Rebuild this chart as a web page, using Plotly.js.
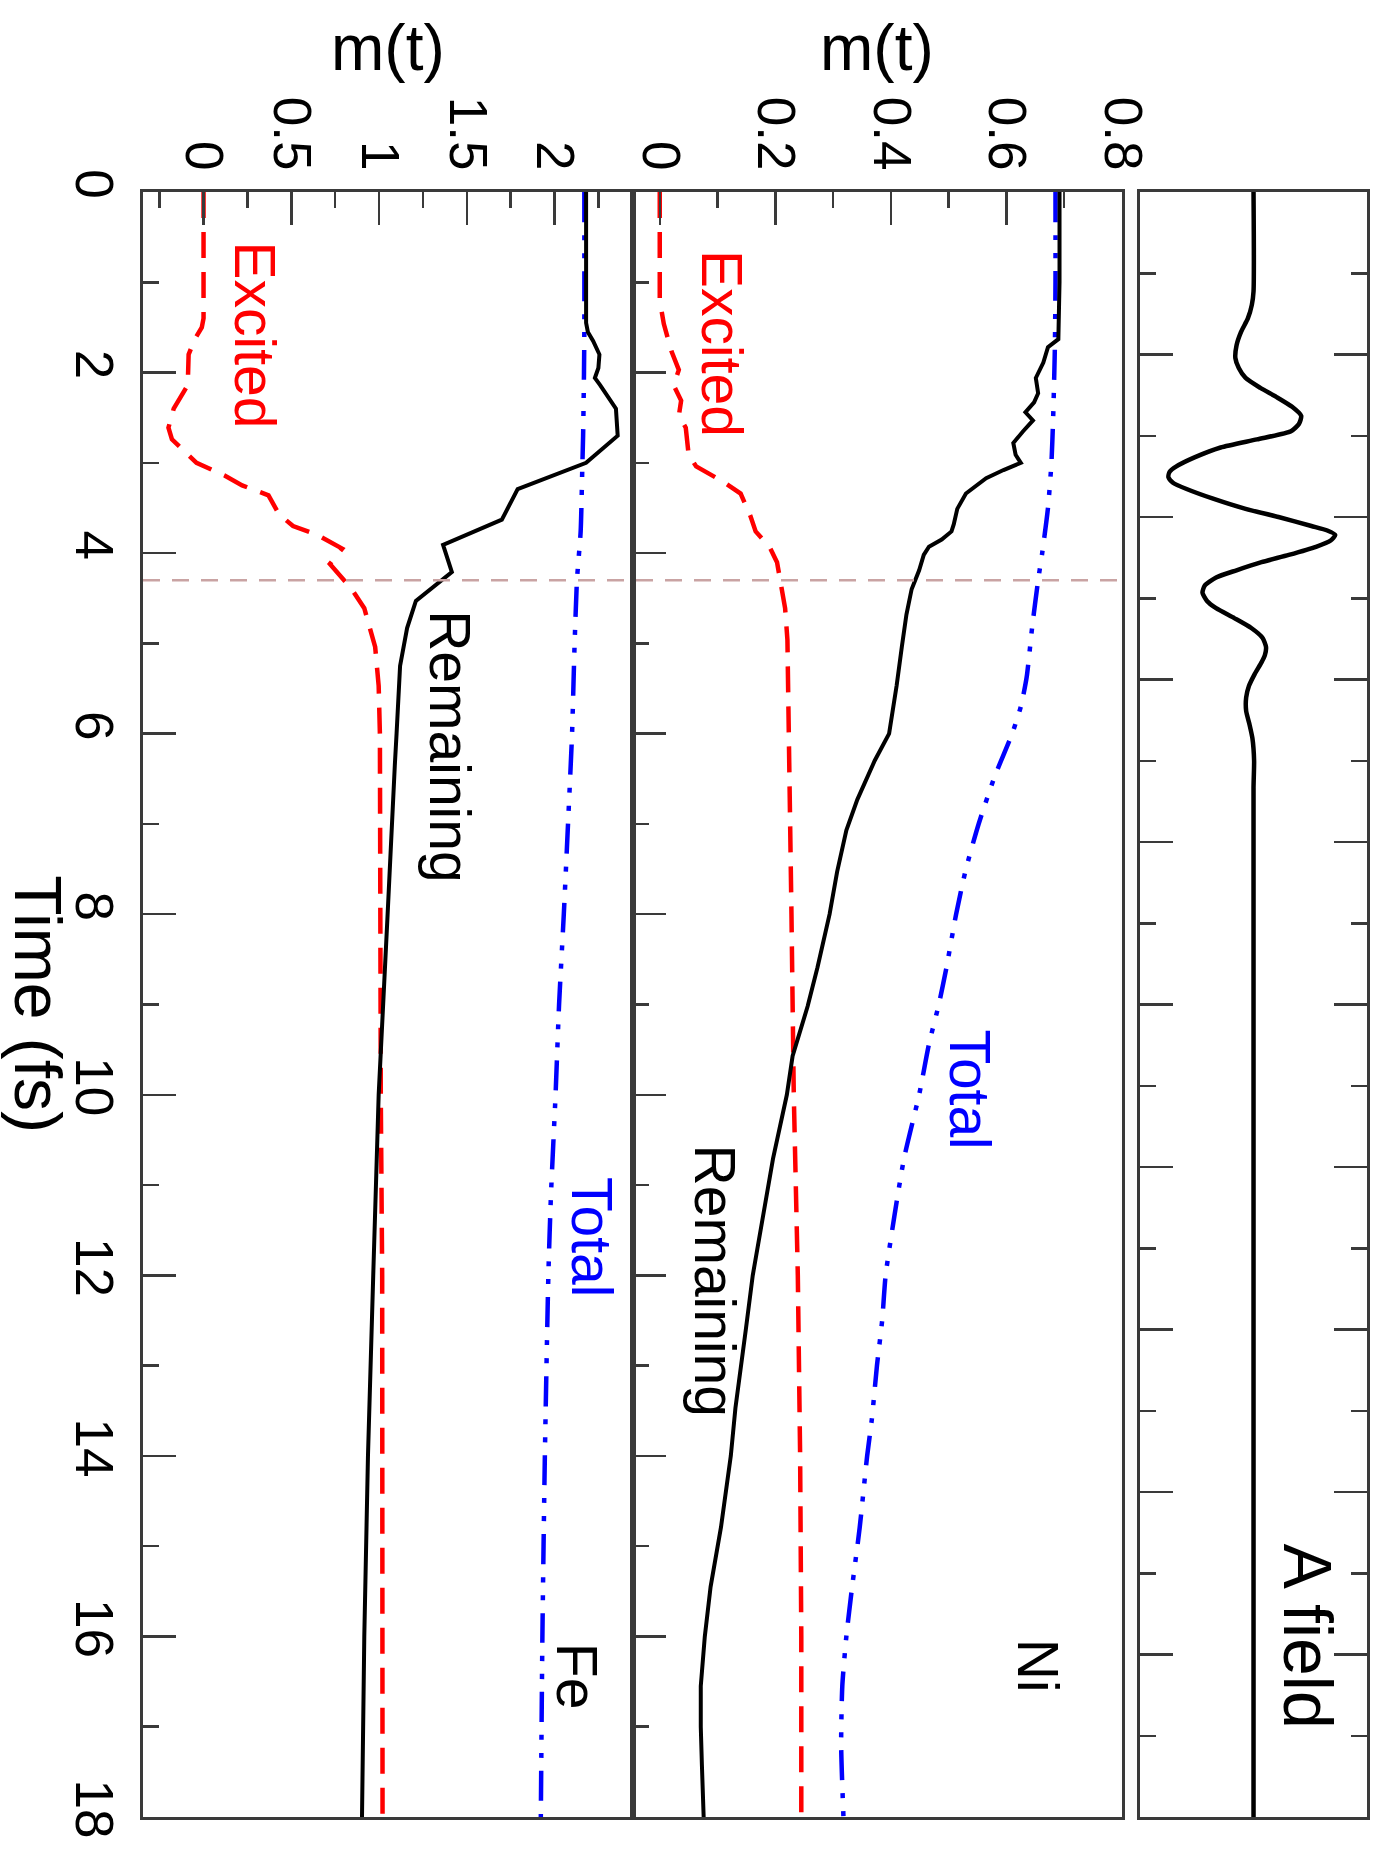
<!DOCTYPE html>
<html><head><meta charset="utf-8">
<script src="https://cdn.plot.ly/plotly-3.0.1.min.js"></script>
<style>html,body{margin:0;padding:0;background:#fff}#chart{width:1381px;height:1871px}</style>
</head><body><div id="chart"></div>
<script>
// ---- A field (arbitrary units) ----
const tA = [0,1.1,1.25,1.4,1.55,1.7,1.84,1.95,2.06,2.17,2.27,2.38,2.48,2.57,2.65,2.74,2.83,2.94,3.04,3.10,3.16,3.22,3.29,3.40,3.51,3.60,3.70,3.75,3.80,3.86,3.93,4.02,4.10,4.19,4.27,4.36,4.44,4.53,4.61,4.72,4.83,4.94,5.04,5.13,5.21,5.34,5.47,5.60,5.75,5.90,6.05,6.3,6.6,18];
const aField = [0,0,-0.015,-0.05,-0.11,-0.15,-0.16,-0.13,-0.07,0.06,0.2,0.34,0.42,0.40,0.33,0.03,-0.29,-0.52,-0.68,-0.74,-0.75,-0.71,-0.59,-0.35,-0.07,0.22,0.51,0.65,0.72,0.68,0.55,0.31,0.07,-0.15,-0.33,-0.43,-0.45,-0.41,-0.33,-0.17,-0.02,0.08,0.11,0.10,0.07,0.01,-0.04,-0.065,-0.065,-0.035,-0.01,0.005,0,0];

// ---- Ni ----
const tNiTot = [0,1.0,1.7,2.0,2.5,3.0,3.5,4.0,4.3,4.8,5.38,5.7,6.0,6.47,7.0,7.5,8.0,8.6,9.0,9.44,10.0,10.7,11.35,12.0,12.5,13.0,13.6,14.0,14.8,15.45,16.0,16.55,17.2,18.0];
const niTotal = [0.685,0.685,0.684,0.683,0.681,0.678,0.672,0.662,0.655,0.645,0.635,0.625,0.61,0.58,0.552,0.53,0.513,0.496,0.483,0.466,0.449,0.423,0.406,0.391,0.385,0.376,0.367,0.359,0.346,0.333,0.323,0.316,0.314,0.318];
const tNiExc = [0,1.2,1.46,1.76,1.97,2.14,2.31,2.48,2.61,2.91,3.04,3.21,3.34,3.59,3.76,3.93,4.1,4.32,4.61,4.96,6,8,10,12,14,16,18];
const niExcited = [0,0,0.007,0.02,0.033,0.024,0.037,0.033,0.045,0.05,0.063,0.11,0.14,0.157,0.166,0.19,0.203,0.209,0.217,0.221,0.224,0.228,0.232,0.239,0.243,0.245,0.245];
const tNiRem = [0,1.0,1.63,1.72,1.89,2.06,2.23,2.33,2.44,2.53,2.65,2.78,2.91,3.0,3.08,3.17,3.34,3.51,3.68,3.76,3.85,3.93,4.02,4.19,4.4,4.68,5.04,5.47,6.0,6.3,6.73,7.07,7.53,8.0,8.59,9.02,9.57,10,10.71,11.35,12,12.6,13.47,14,14.79,15.45,16,16.55,17,17.43,18];
const niRemain = [0.692,0.692,0.69,0.672,0.664,0.651,0.655,0.648,0.633,0.646,0.629,0.612,0.616,0.625,0.595,0.565,0.53,0.515,0.509,0.505,0.488,0.466,0.457,0.449,0.436,0.427,0.419,0.41,0.397,0.372,0.342,0.323,0.307,0.294,0.273,0.256,0.23,0.22,0.196,0.179,0.161,0.149,0.131,0.123,0.106,0.088,0.078,0.071,0.071,0.073,0.076];

// ---- Fe ----
const tFeTot = [0,1.5,2.0,2.7,3.0,3.76,4.3,5.04,6.0,7.0,8.0,9.0,10.0,11.1,12.0,14,16,18];
const feTotal = [2.17,2.17,2.168,2.163,2.159,2.149,2.128,2.114,2.10,2.077,2.053,2.026,2.006,1.98,1.965,1.945,1.931,1.922];
const tFeExc = [0,1.4,1.5,1.63,1.8,2.0,2.14,2.4,2.61,2.74,2.87,3.0,3.14,3.25,3.36,3.57,3.70,3.80,3.95,4.12,4.4,4.61,5.04,5.47,6,8,10,12,18];
const feExcited = [0,0,-0.01,-0.05,-0.085,-0.09,-0.09,-0.17,-0.2,-0.18,-0.11,-0.04,0.12,0.22,0.37,0.43,0.51,0.65,0.79,0.72,0.845,0.916,0.978,0.998,1.005,1.005,1.01,1.018,1.02];
const tFeRem = [0,1.45,1.55,1.65,1.8,1.95,2.06,2.14,2.4,2.7,3.0,3.29,3.63,3.91,4.21,4.53,4.83,5.25,6,6.35,8,10,12,14,16,18];
const feRemain = [2.18,2.18,2.19,2.22,2.256,2.25,2.23,2.26,2.35,2.36,2.18,1.79,1.70,1.365,1.415,1.21,1.16,1.12,1.10,1.09,1.049,0.998,0.967,0.937,0.916,0.903];

const markerTime = 4.3;
const feTicks = [0,0.5,1,1.5,2];
const feTickText = ['0','0.5','1','1.5','2'];
const niTicks = [0,0.2,0.4,0.6,0.8];
const niTickText = ['0','0.2','0.4','0.6','0.8'];

const FONT = 'Liberation Sans, Arial, Helvetica, sans-serif';
const AX = '#3a3a3a';
const blueDash = '30px,13px,5px,13px,5px,13px';
const redDash = '26px,14px';

function line(x, y, xa, ya, color, dash, width, shape) {
  return {x: x, y: y, xaxis: xa, yaxis: ya, mode: 'lines', hoverinfo: 'skip',
    line: {color: color, dash: dash, width: width, shape: shape || 'linear', smoothing: 0.6}};
}

const data = [
  line(feTotal, tFeTot, 'x', 'y', '#0000ff', blueDash, 4.5, 'spline'),
  line(feExcited, tFeExc, 'x', 'y', '#ff0000', redDash, 4.5),
  line(feRemain, tFeRem, 'x', 'y', '#000000', 'solid', 4),
  line(niTotal, tNiTot, 'x2', 'y2', '#0000ff', blueDash, 4.5, 'spline'),
  line(niExcited, tNiExc, 'x2', 'y2', '#ff0000', redDash, 4.5),
  line(niRemain, tNiRem, 'x2', 'y2', '#000000', 'solid', 4),
  line(aField, tA, 'x3', 'y3', '#000000', 'solid', 4.5, 'spline')
];

const tickFont = {family: FONT, size: 53, color: '#000'};
const common = {showgrid: false, zeroline: false, showline: true, linecolor: AX, linewidth: 3,
  ticks: 'inside', tickcolor: AX, tickwidth: 2.5, ticklen: 33, tickfont: tickFont, fixedrange: true};

function ann(text, xref, yref, x, y, size, color, angle) {
  return {text: text, xref: xref, yref: yref, x: x, y: y, xanchor: 'center', yanchor: 'middle',
    textangle: angle, showarrow: false, font: {family: FONT, size: size, color: color}};
}

const layout = {
  width: 1381, height: 1871,
  margin: {l: 143, r: 14, t: 192, b: 54},
  paper_bgcolor: '#fff', plot_bgcolor: '#fff',
  showlegend: false,
  font: {family: FONT, color: '#000'},
  xaxis: Object.assign({}, common, {domain: [0, 0.4], anchor: 'y', side: 'top', range: [-0.345, 2.445],
    tickvals: feTicks, ticktext: feTickText, tickangle: 90, mirror: true,
    minor: {dtick: 0.25, tick0: 0, ticks: 'inside', ticklen: 16, tickcolor: AX, tickwidth: 2.5}}),
  yaxis: Object.assign({}, common, {domain: [0, 1], anchor: 'x', range: [18, 0], dtick: 2, tick0: 0,
    tickangle: 90, mirror: true,
    minor: {dtick: 1, tick0: 0, ticks: 'inside', ticklen: 16, tickcolor: AX, tickwidth: 2.5}}),
  xaxis2: Object.assign({}, common, {domain: [0.4, 0.8], anchor: 'y2', side: 'top', range: [-0.047, 0.8005],
    tickvals: niTicks, ticktext: niTickText, tickangle: 90, mirror: true,
    minor: {dtick: 0.1, tick0: 0, ticks: 'inside', ticklen: 16, tickcolor: AX, tickwidth: 2.5}}),
  yaxis2: Object.assign({}, common, {domain: [0, 1], anchor: 'x2', range: [18, 0], dtick: 2, tick0: 0,
    showticklabels: false, mirror: true,
    minor: {dtick: 1, tick0: 0, ticks: 'inside', ticklen: 16, tickcolor: AX, tickwidth: 2.5}}),
  xaxis3: Object.assign({}, common, {domain: [0.8146, 1], anchor: 'y3', range: [-1, 1],
    ticks: '', showticklabels: false, mirror: true}),
  yaxis3: Object.assign({}, common, {domain: [0, 1], anchor: 'x3', range: [18, 0], dtick: 1.8, tick0: 0,
    showticklabels: false, mirror: 'allticks',
    minor: {dtick: 0.9, tick0: 0, ticks: 'inside', ticklen: 16, tickcolor: AX, tickwidth: 2.5}}),
  shapes: [
    {type: 'line', xref: 'paper', yref: 'y', x0: 0, x1: 0.8, y0: markerTime, y1: markerTime,
     line: {color: '#c9a3a3', width: 2.5, dash: '17px,12px'}, layer: 'above'}
  ],
  annotations: [
    ann('m(t)', 'paper', 'paper', 0.2, 1.0886, 64, '#000', 0),
    ann('m(t)', 'paper', 'paper', 0.6, 1.0886, 64, '#000', 0),
    ann('Time (fs)', 'paper', 'paper', -0.0855, 0.5, 66, '#000', 90),
    ann('Excited', 'x', 'y', 0.293, 1.59, 57, '#ff0000', 90),
    ann('Remaining', 'x', 'y', 1.405, 6.14, 57, '#000', 90),
    ann('Total', 'x', 'y', 2.21, 11.58, 57, '#0000ff', 90),
    ann('Fe', 'x', 'y', 2.13, 16.44, 57, '#000', 90),
    ann('Excited', 'x2', 'y2', 0.109, 1.68, 57, '#ff0000', 90),
    ann('Remaining', 'x2', 'y2', 0.096, 12.06, 57, '#000', 90),
    ann('Total', 'x2', 'y2', 0.537, 9.94, 57, '#0000ff', 90),
    ann('Ni', 'x2', 'y2', 0.654, 16.32, 57, '#000', 90),
    ann('A field', 'x3', 'y3', 0.48, 15.99, 68, '#000', 90)
  ]
};

Plotly.newPlot('chart', data, layout, {displayModeBar: false, staticPlot: true});
</script></body></html>
